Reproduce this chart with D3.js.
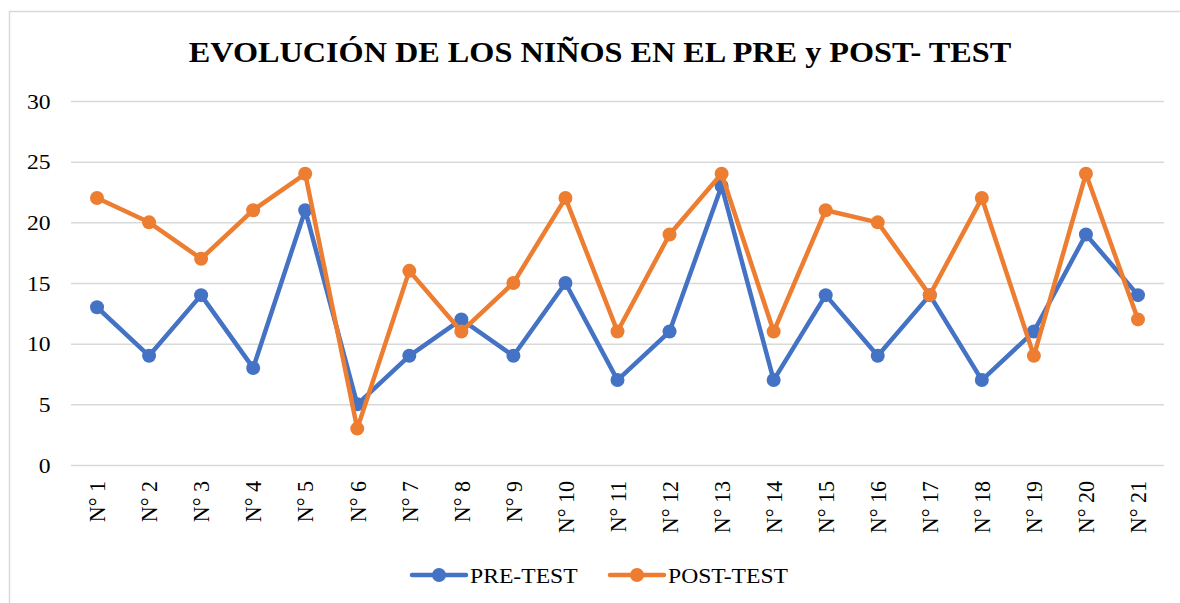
<!DOCTYPE html>
<html>
<head>
<meta charset="utf-8">
<script src="https://cdn.jsdelivr.net/npm/d3@7"></script>
<style>
  body { margin: 0; background: #fff; }
</style>
</head>
<body>
<script>
  const categories = ['N° 1', 'N° 2', 'N° 3', 'N° 4', 'N° 5', 'N° 6', 'N° 7', 'N° 8', 'N° 9', 'N° 10',
    'N° 11', 'N° 12', 'N° 13', 'N° 14', 'N° 15', 'N° 16', 'N° 17', 'N° 18', 'N° 19', 'N° 20', 'N° 21'];
  const preTest = [13, 9, 14, 8, 21, 5, 9, 12, 9, 15, 7, 11, 23, 7, 14, 9, 14, 7, 11, 19, 14];
  const postTest = [22, 20, 17, 21, 24, 3, 16, 11, 15, 22, 11, 19, 24, 11, 21, 20, 14, 22, 9, 24, 12];
  const yTicks = [0, 5, 10, 15, 20, 25, 30];
  const seriesNames = ['PRE-TEST', 'POST-TEST'];
  const title = 'EVOLUCIÓN DE LOS NIÑOS EN EL PRE y POST- TEST';

  const w = 1180;
  const h = 603;
  const font = 'Liberation Serif';
  const colors = ['#4472C4', '#ED7D31'];
  const sx = 1.075; // the picture is a little wider than tall

  const svg = d3.select('body').append('svg')
    .attr('width', w)
    .attr('height', h)
    .attr('font-family', font);

  // chart frame
  svg.append('rect')
    .attr('x', 9.5).attr('y', 11.5)
    .attr('width', w).attr('height', h)
    .attr('fill', 'none')
    .attr('stroke', '#d9d9d9')
    .attr('stroke-width', 1.5);

  svg.append('text')
    .attr('transform', 'translate(600,62) scale(' + sx + ',1)')
    .attr('text-anchor', 'middle')
    .attr('font-family', font)
    .attr('font-size', 30)
    .attr('font-weight', 'bold')
    .text(title);

  const xScale = d3.scaleBand()
    .domain(categories)
    .range([71, 1164]);

  const yScale = d3.scaleLinear()
    .domain([0, 30])
    .range([465, 101]);

  const cx = (d, i) => xScale(categories[i]) + xScale.bandwidth() / 2;

  // grid + y labels
  const yAxis = d3.axisLeft(yScale).tickValues(yTicks).tickSize(-(1164 - 71));
  const gy = svg.append('g')
    .attr('transform', 'translate(71,0)')
    .call(yAxis)
    .attr('font-family', font)
    .attr('font-size', 22);
  gy.select('.domain').remove();
  gy.selectAll('line').attr('stroke', '#d9d9d9').attr('stroke-width', 1.5);
  gy.selectAll('text')
    .attr('fill', '#000')
    .attr('x', -19)
    .attr('transform', 'scale(' + sx + ',1)');

  // x labels
  const xAxis = d3.axisBottom(xScale).tickSize(0);
  const gx = svg.append('g')
    .attr('transform', 'translate(0,465)')
    .call(xAxis)
    .attr('font-family', font)
    .attr('font-size', 22);
  gx.select('.domain').remove();
  gx.selectAll('text')
    .attr('fill', '#000')
    .attr('text-anchor', 'end')
    .attr('dy', '0.35em')
    .attr('transform', 'translate(0,16) scale(' + sx + ',1) rotate(-90)')
    .attr('x', 0).attr('y', 0);

  const line = d3.line().x(cx).y((d) => yScale(d));

  [preTest, postTest].forEach((vals, s) => {
    svg.append('path')
      .datum(vals)
      .attr('d', line)
      .attr('fill', 'none')
      .attr('stroke', colors[s])
      .attr('stroke-width', 4.5)
      .attr('stroke-linejoin', 'round');
    svg.selectAll('.pt' + s)
      .data(vals)
      .enter().append('circle')
      .attr('class', 'pt' + s)
      .attr('cx', cx)
      .attr('cy', (d) => yScale(d))
      .attr('r', 7)
      .attr('fill', colors[s]);
  });

  // legend
  const legX = [411, 609];
  seriesNames.forEach((name, s) => {
    const g = svg.append('g').attr('transform', 'translate(' + legX[s] + ',575)');
    g.append('line')
      .attr('x1', 1).attr('x2', 55)
      .attr('stroke', colors[s]).attr('stroke-width', 4.5).attr('stroke-linecap', 'round');
    g.append('circle').attr('cx', 28).attr('r', 7).attr('fill', colors[s]);
    g.append('text')
      .attr('transform', 'translate(59,0) scale(' + sx + ',1)')
      .attr('dy', '0.35em')
      .attr('font-family', font)
      .attr('font-size', 22)
      .text(name);
  });
</script>
</body>
</html>
